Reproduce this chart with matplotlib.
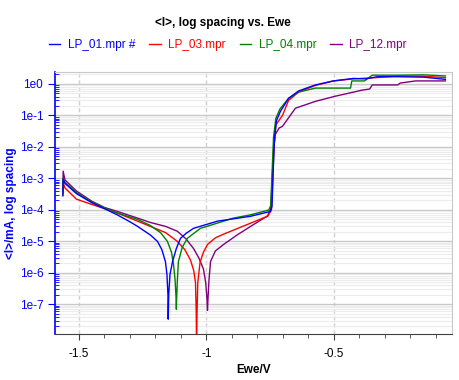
import matplotlib
matplotlib.use("Agg")
import matplotlib.pyplot as plt
from matplotlib.ticker import MultipleLocator, LogLocator, FuncFormatter, NullFormatter
import numpy as np

plt.rcParams['font.family'] = ['Liberation Sans', 'DejaVu Sans']

# values: potential (V) and |I| (mA)
lp01_E = [-1.563, -1.562, -1.555, -1.51, -1.45, -1.40, -1.35, -1.30, -1.27, -1.22,
          -1.192, -1.175, -1.161, -1.155, -1.151, -1.150, -1.148, -1.143, -1.133, -1.118,
          -1.102, -1.08, -1.051, -0.957,
          -0.827, -0.749, -0.743, -0.738, -0.733, -0.725, -0.710, -0.678, -0.639,
          -0.573, -0.502, -0.424, -0.376, -0.33, -0.25, -0.15, -0.063]
lp01_I = [2.8e-4, 9.5e-4, 7.0e-4, 3.3e-4, 1.7e-4, 1.1e-4, 7.0e-5, 4.2e-5, 3.0e-5, 1.6e-5,
          1.0e-5, 5.5e-6, 2.3e-6, 9e-7, 2e-7, 3.4e-8, 2e-7, 9e-7, 2.3e-6, 6e-6,
          1.25e-5, 1.8e-5, 2.6e-5, 4.4e-5,
          6.3e-5, 9e-5, 1.3e-4, 2e-3, 2e-2, 7e-2, 0.135, 0.35, 0.6,
          0.93, 1.25, 1.5, 1.45, 1.7, 1.7, 1.65, 1.4]

lp03_E = [-1.563, -1.562, -1.555, -1.51, -1.45, -1.40, -1.35, -1.27, -1.22, -1.16, -1.114,
          -1.085, -1.063, -1.050, -1.043, -1.040, -1.039, -1.037, -1.034, -1.025, -1.012,
          -0.996, -0.965, -0.933, -0.827,
          -0.760, -0.745, -0.740, -0.735, -0.728, -0.702, -0.678, -0.639, -0.573,
          -0.502, -0.424, -0.33, -0.25, -0.15, -0.063]
lp03_I = [3.0e-4, 7.5e-4, 5.0e-4, 2.2e-4, 1.5e-4, 1.1e-4, 8.0e-5, 4.4e-5, 3.0e-5, 1.9e-5, 1.0e-5,
          5.5e-6, 2.6e-6, 1.2e-6, 5e-7, 5e-8, 5e-9, 5e-8, 5e-7, 2.2e-6, 4.5e-6,
          8e-6, 1.3e-5, 1.7e-5, 3.8e-5,
          6.3e-5, 1.0e-4, 1e-3, 1e-2, 5e-2, 0.1, 0.3, 0.55, 0.9,
          1.25, 1.45, 1.6, 1.8, 1.75, 1.6]

lp04_E = [-1.563, -1.562, -1.555, -1.51, -1.45, -1.40, -1.35, -1.27, -1.22, -1.18, -1.153,
          -1.137, -1.129, -1.123, -1.119, -1.118, -1.117, -1.114, -1.110, -1.095, -1.075,
          -1.024, -0.894, -0.827,
          -0.755, -0.748, -0.742, -0.737, -0.728, -0.712, -0.678, -0.639, -0.573,
          -0.50, -0.435, -0.43, -0.38, -0.35, -0.25, -0.15, -0.063]
lp04_I = [3.5e-4, 1.0e-3, 7.5e-4, 3.6e-4, 1.8e-4, 1.15e-4, 8.0e-5, 5.0e-5, 3.2e-5, 1.9e-5, 1.0e-5,
          4.5e-6, 1.8e-6, 6e-7, 1.5e-7, 7e-8, 1.5e-7, 6e-7, 2.3e-6, 6.5e-6, 1.25e-5,
          2.6e-5, 5.5e-5, 7e-5,
          1.0e-4, 1.4e-4, 2e-3, 2e-2, 8e-2, 0.16, 0.35, 0.55, 0.74,
          0.74, 0.74, 1.25, 1.25, 1.9, 1.9, 1.95, 1.8]

lp12_E = [-1.563, -1.562, -1.555, -1.51, -1.45, -1.40, -1.35, -1.27, -1.22, -1.16, -1.114,
          -1.080, -1.051, -1.030, -1.012, -1.003, -0.998, -0.996, -0.994, -0.990, -0.984,
          -0.965, -0.933, -0.88, -0.827, -0.760,
          -0.748, -0.742, -0.737, -0.730, -0.715, -0.702, -0.651, -0.573, -0.494,
          -0.388, -0.36, -0.35, -0.25, -0.24, -0.18, -0.063]
lp12_I = [4.0e-4, 1.7e-3, 9.0e-4, 4.0e-4, 1.9e-4, 1.2e-4, 9.0e-5, 5.5e-5, 4.0e-5, 3.0e-5, 2.1e-5,
          1.2e-5, 6e-6, 3e-6, 1.35e-6, 5e-7, 1.5e-7, 6.5e-8, 1.5e-7, 6e-7, 2.3e-6,
          5e-6, 8e-6, 1.6e-5, 3.0e-5, 6.5e-5,
          1.1e-4, 1e-3, 8e-3, 2.5e-2, 4e-2, 4.5e-2, 0.17, 0.28, 0.41,
          0.64, 0.69, 0.93, 0.93, 1.07, 1.25, 1.25]

labels = ['LP_01.mpr #', 'LP_03.mpr', 'LP_04.mpr', 'LP_12.mpr']
colors = ['#0000ff', '#ff0000', '#008000', '#800080']
series = [(lp01_E, lp01_I), (lp03_E, lp03_I), (lp04_E, lp04_I), (lp12_E, lp12_I)]

fig = plt.figure(figsize=(4.6, 3.8), dpi=100)
ax = fig.add_axes([55 / 460, 46 / 380, 397 / 460, 262 / 380])

# blue trace on top, purple at the back
handles = []
for (E, I), c, lab, z in zip(series, colors, labels, [5, 3, 4, 2]):
    h, = ax.plot(E, I, color=c, lw=1.0, label=lab, zorder=z)
    handles.append(h)

ax.set_yscale('log')
ax.set_xlim(-1.594, -0.037)
ax.set_ylim(1.15e-8, 2.4)

ax.xaxis.set_major_locator(MultipleLocator(0.5))
ax.xaxis.set_minor_locator(MultipleLocator(0.1))
ax.xaxis.set_major_formatter(FuncFormatter(lambda v, p: '%g' % v))
ax.yaxis.set_major_locator(LogLocator(base=10, numticks=20))
ax.yaxis.set_minor_locator(LogLocator(base=10, subs=np.arange(2, 10), numticks=20))
ax.yaxis.set_minor_formatter(NullFormatter())
ax.yaxis.set_major_formatter(FuncFormatter(lambda v, p: '1e%d' % round(np.log10(v))))

ax.grid(which='major', axis='y', color='#c8c8c8', lw=1.0)
ax.grid(which='minor', axis='y', color='#ececec', lw=0.8)
ax.grid(which='major', axis='x', color='#d0d0d0', lw=1.0, ls=(0, (3, 2)))
ax.set_axisbelow(True)

ax.tick_params(axis='x', which='major', length=4, color='#404040', labelsize=8.5, pad=6)
ax.tick_params(axis='x', which='minor', length=3, color='#404040')
ax.tick_params(axis='y', which='major', length=5, color='#0000ff', labelcolor='#0000ff', labelsize=8.5)
ax.tick_params(axis='y', which='minor', length=3, direction='in', color='#0000ff')

ax.spines['left'].set_color('#0000ff')
ax.spines['left'].set_linewidth(1.2)
ax.spines['bottom'].set_color('#404040')
ax.spines['top'].set_color('#c8c8c8')
ax.spines['right'].set_color('#c8c8c8')

ax.set_xlabel('Ewe/V', fontsize=8.5, fontweight='bold', labelpad=3)
ax.set_ylabel('<I>/mA, log spacing', fontsize=8.5, fontweight='bold', color='#0000ff', labelpad=2)

fig.text(0.485, 1 - 23 / 380, '<I>, log spacing vs. Ewe', ha='center', va='center',
         fontsize=8.5, fontweight='bold')
fig.legend(handles, labels, loc='center', bbox_to_anchor=(0.495, 1 - 45 / 380), ncol=4,
           frameon=False, labelcolor='linecolor', fontsize=8.5, handlelength=1.0,
           handletextpad=0.6, columnspacing=1.2)

fig.savefig('out.png', dpi=100)
